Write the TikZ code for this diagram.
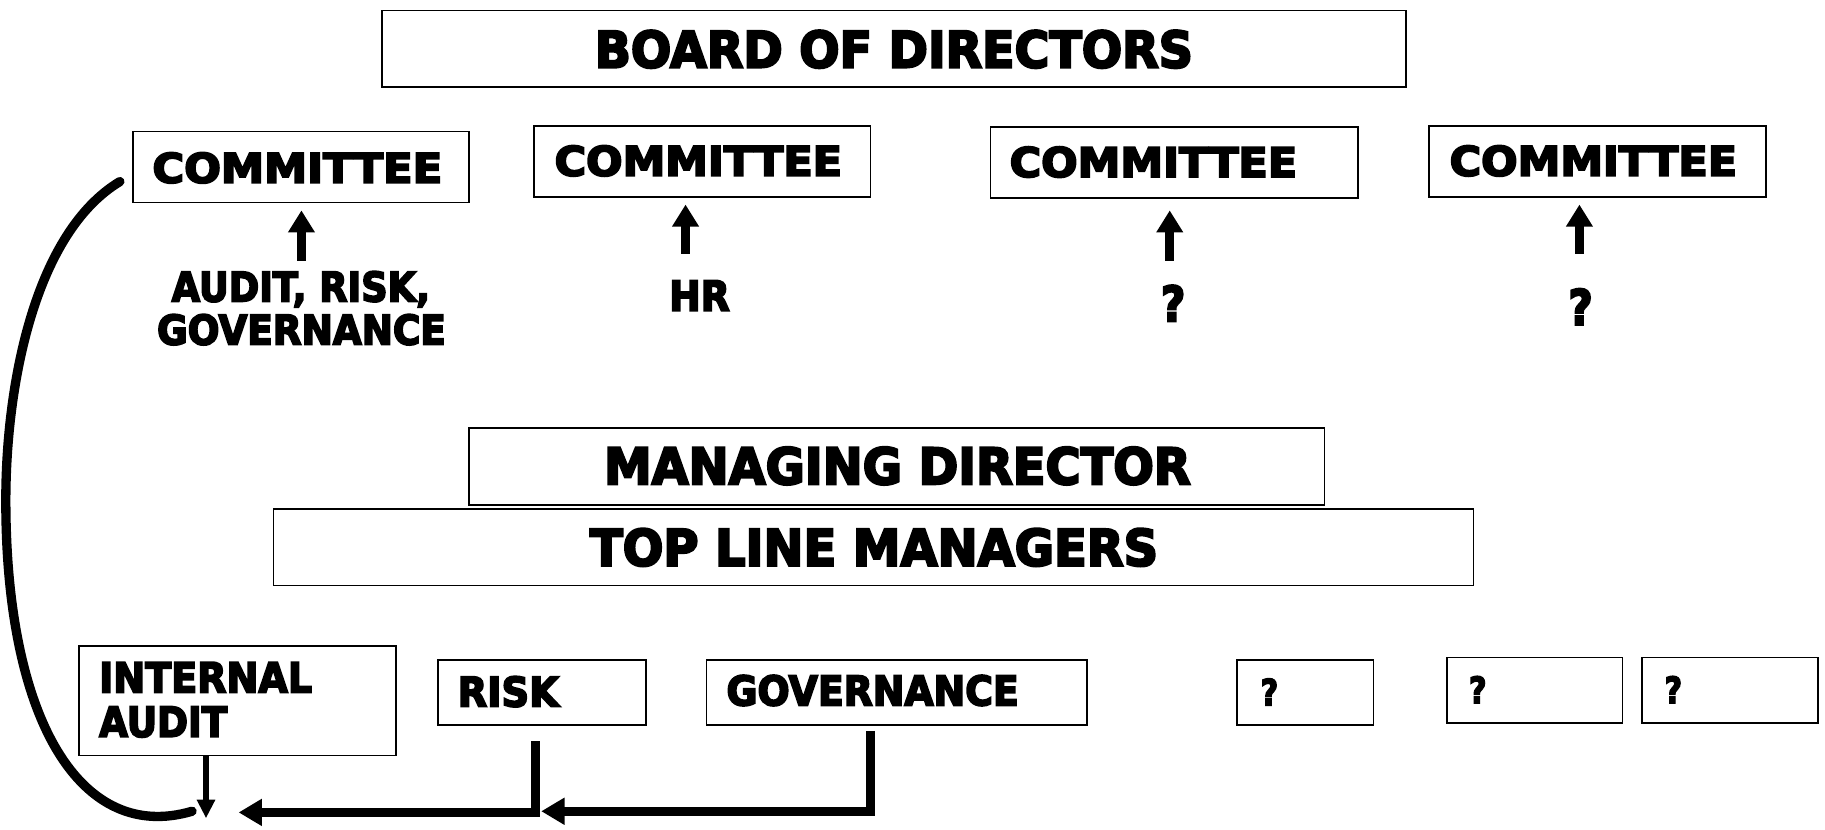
\documentclass[tikz,border=0pt]{standalone}
\usepackage{fontspec}
\setmainfont{DejaVu Sans}[BoldFeatures={FakeBold=4.5}]
\usetikzlibrary{arrows.meta}
% heavy caps text set to a given width and cap height
\newcommand\capsfit[3]{\resizebox{#1pt}{#2pt}{\bfseries #3}}

\begin{document}
\begin{tikzpicture}[x=1pt,y=-1pt,
  box/.style={draw, rectangle, line width=1.5pt, inner sep=0pt},
  txt/.style={inner sep=0pt, anchor=base},
  ltxt/.style={inner sep=0pt, anchor=base west},
  uparrow/.style={line width=8pt, -{Triangle[width=22pt,length=19pt]}},
  bigarrow/.style={line width=8pt, -{Triangle[width=22pt,length=20pt]}},
  thinarrow/.style={line width=4.5pt, -{Triangle[width=15pt,length=16pt]}},
  loopline/.style={line width=8pt, line cap=round}]
\useasboundingbox (0,0) rectangle (1568,713);

% --- board and committees
\node[box, minimum width=880pt, minimum height=66pt] (board) at (768,42) {};
\node[txt] (boardt) at (768,58) {\capsfit{514}{32}{BOARD OF DIRECTORS}};

\node[box, minimum width=289pt, minimum height=61pt] (c1) at (258.5,143.5) {};
\node[box, minimum width=289pt, minimum height=61pt] (c2) at (603.5,138.5) {};
\node[box, minimum width=316pt, minimum height=61pt] (c3) at (1009,139.5) {};
\node[box, minimum width=289pt, minimum height=61pt] (c4) at (1372.5,138.5) {};
\node[txt] (c1t) at (255.5,157) {\capsfit{249}{26}{COMMITTEE}};
\node[txt] (c2t) at (600,151) {\capsfit{247}{26}{COMMITTEE}};
\node[txt] (c3t) at (991,152) {\capsfit{247}{26}{COMMITTEE}};
\node[txt] (c4t) at (1369,151) {\capsfit{247}{26}{COMMITTEE}};

% committee remits
\node[txt] (r1a) at (258.5,259) {\capsfit{222}{26}{AUDIT, RISK,}};
\node[txt] (r1b) at (259,296) {\capsfit{248}{26}{GOVERNANCE}};
\node[txt] (r2) at (601,267) {\capsfit{52}{26}{HR}};
\node[txt] (r3) at (1008,276) {\capsfit{21}{31}{?}};
\node[txt] (r4) at (1358,279) {\capsfit{21}{31}{?}};

\coordinate (u1) at (259,224);
\coordinate (u2) at (589,218);
\coordinate (u3) at (1005,224);
\coordinate (u4) at (1357,218);
\draw[uparrow, shorten >=6pt] (u1) -- (u1 |- c1.south);
\draw[uparrow, shorten >=6pt] (u2) -- (u2 |- c2.south);
\draw[uparrow, shorten >=10pt] (u3) -- (u3 |- c3.south);
\draw[uparrow, shorten >=6pt] (u4) -- (u4 |- c4.south);

% --- management
\node[box, minimum width=735pt, minimum height=66pt] (md) at (770.5,401) {};
\node[txt] (mdt) at (771,416) {\capsfit{504}{32}{MANAGING DIRECTOR}};
\node[box, minimum width=1031pt, minimum height=66pt] (tlm) at (750.5,470) {};
\node[txt] (tlmt) at (751,486) {\capsfit{488}{32}{TOP LINE MANAGERS}};

% --- control functions
\node[box, minimum width=272pt, minimum height=94pt] (ia) at (204,602) {};
\node[ltxt] (iat1) at (85,595) {\capsfit{183}{26}{INTERNAL}};
\node[ltxt] (iat2) at (85,633) {\capsfit{110}{26}{AUDIT}};
\node[box, minimum width=179pt, minimum height=56pt] (risk) at (465.5,595) {};
\node[ltxt] (riskt) at (393,607) {\capsfit{87}{26}{RISK}};
\node[box, minimum width=327pt, minimum height=56pt] (gov) at (770.5,595) {};
\node[ltxt] (govt) at (624,606) {\capsfit{251}{26}{GOVERNANCE}};
\node[box, minimum width=117pt, minimum height=56pt] (q1) at (1121.5,595) {};
\node[ltxt] (q1t) at (1083,606) {\capsfit{15}{23}{?}};
\node[box, minimum width=151pt, minimum height=56pt] (q2) at (1318.5,593) {};
\node[ltxt] (q2t) at (1262,604) {\capsfit{15}{23}{?}};
\node[box, minimum width=151pt, minimum height=56pt] (q3) at (1486.5,593) {};
\node[ltxt] (q3t) at (1430,604) {\capsfit{15}{23}{?}};

% reporting lines at the bottom
\coordinate (iaend) at (177,703);
\coordinate (rtop) at (460,637);
\coordinate (rtip) at (205,698);
\coordinate (gtop) at (748,628);
\coordinate (gtip) at (465,697);
\draw[thinarrow] (ia.south -| iaend) -- (iaend);
\draw[bigarrow] (rtop) |- (rtip);
\draw[bigarrow] (gtop) |- (gtip);

% loop back up to the audit committee
\coordinate (lstart) at (103,156);
\coordinate (lend) at (165,697);
\draw[loopline] (lstart) .. controls (30,200) and (5,330) .. (5,430)
  .. controls (5,620) and (70,725) .. (lend);
\end{tikzpicture}
\end{document}
